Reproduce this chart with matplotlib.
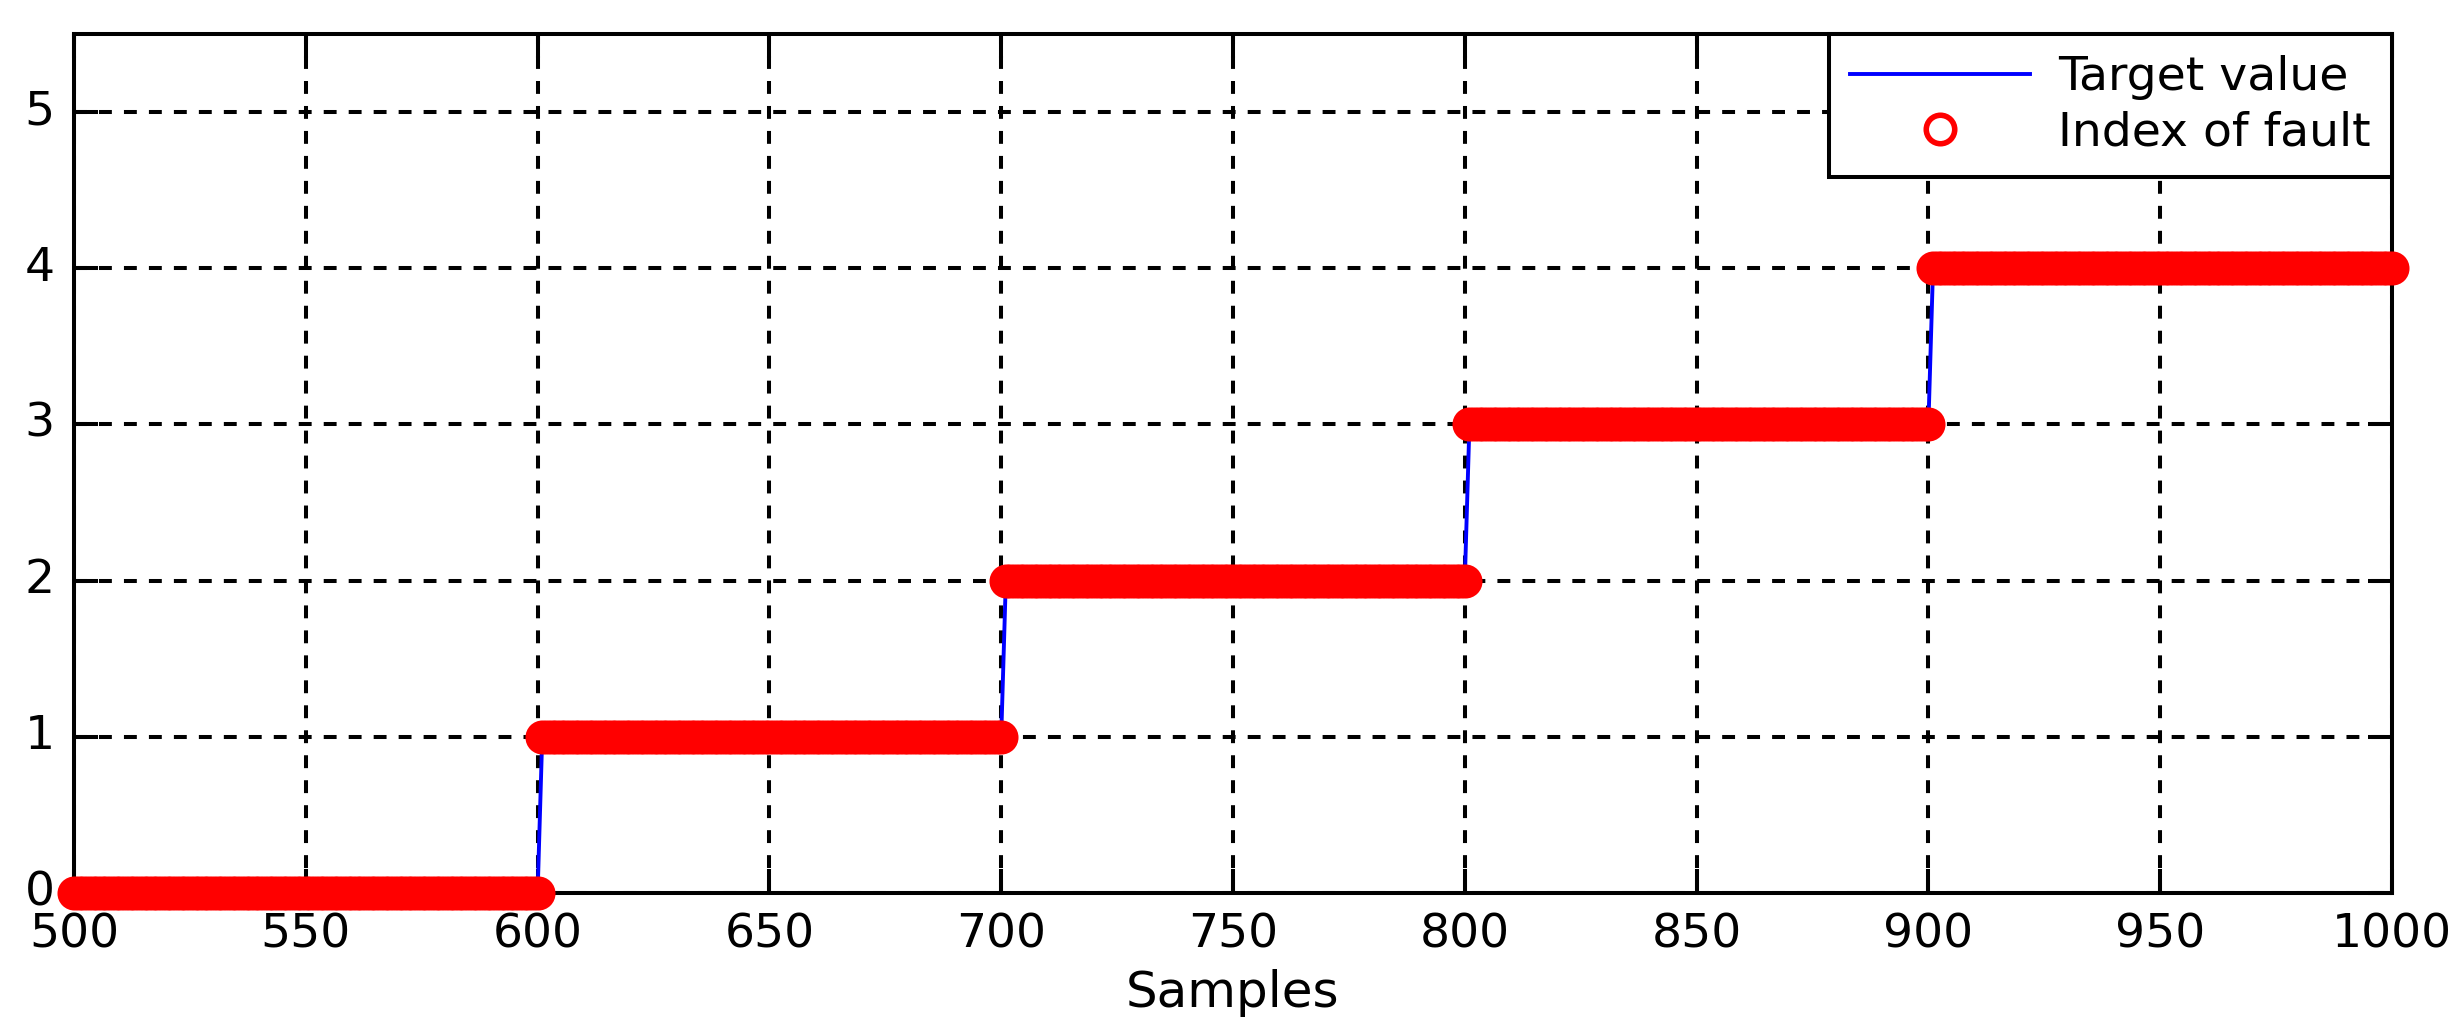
import numpy as np
import matplotlib
matplotlib.use("Agg")
import matplotlib.pyplot as plt
from matplotlib.transforms import ScaledTranslation

# step levels (samples 500..1000)
step_starts = [500, 601, 701, 801, 901]
step_ends = [600, 700, 800, 900, 1000]
target_levels = [0, 1, 2, 3, 4]
fault_levels = [0, 1, 2, 3, 4]

x_ticks = [500, 550, 600, 650, 700, 750, 800, 850, 900, 950, 1000]
y_ticks = [0, 1, 2, 3, 4, 5]

lengths = [e - s + 1 for s, e in zip(step_starts, step_ends)]
samples = np.arange(step_starts[0], step_ends[-1] + 1)
target = np.repeat(target_levels, lengths)
fault = np.repeat(fault_levels, lengths)

fig = plt.figure(figsize=(24.64, 10.34), dpi=100)
ax = fig.add_axes([74 / 2464, 141 / 1034, 2318 / 2464, 859 / 1034])

ax.plot(samples, target, color="#0000ff", lw=2.8, label="Target value", zorder=3)
ax.plot(samples, fault, linestyle="none", marker="o", markersize=20.5,
        markerfacecolor="none", markeredgecolor="#ff0000", markeredgewidth=4,
        label="Index of fault", zorder=4, clip_on=False)

ax.set_xlim(500, 1000)
ax.set_ylim(0, 5.5)
ax.set_xticks(x_ticks)
ax.set_yticks(y_ticks)

ax.grid(True, color="black", linestyle=(0, (3.2, 3.0)), linewidth=2.9)
ax.set_axisbelow(True)
for sp in ax.spines.values():
    sp.set_linewidth(2.9)
ax.tick_params(direction="in", length=17, width=2.9, top=True, right=True,
               labelsize=34, pad=14)

# y labels sit a little high, as in the original
shift = ScaledTranslation(0, 5 / 100, fig.dpi_scale_trans)
for lab in ax.get_yticklabels():
    lab.set_transform(lab.get_transform() + shift)

ax.set_xlabel("Samples", fontsize=36, labelpad=8)

leg = ax.legend(loc="upper right", bbox_to_anchor=(1, 1), borderaxespad=0,
                fontsize=34, handlelength=3.8, handletextpad=0.6,
                borderpad=0.45, labelspacing=0.22, fancybox=False,
                framealpha=1, edgecolor="black")
leg.get_frame().set_linewidth(2.9)
leg.set_zorder(10)

fig.savefig("out.png", dpi=100)
